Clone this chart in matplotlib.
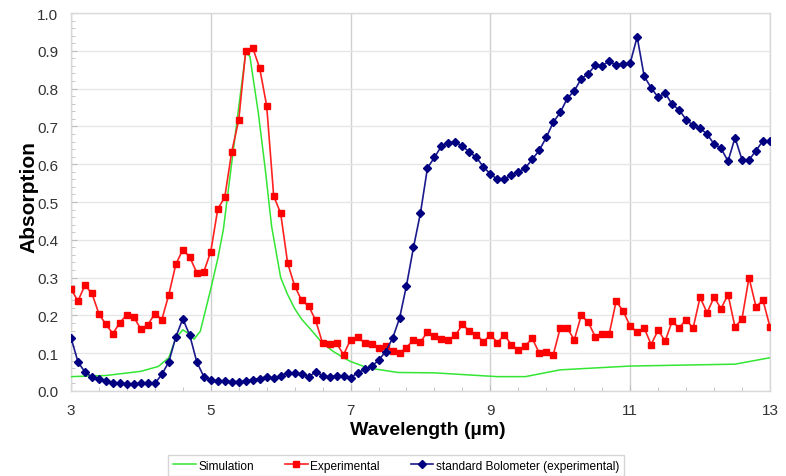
import numpy as np
import matplotlib
matplotlib.use("Agg")
import matplotlib.pyplot as plt
from matplotlib.ticker import MultipleLocator, FixedLocator, FormatStrFormatter

plt.rcParams["font.family"] = ["Liberation Sans", "DejaVu Sans"]

# ---------------------------------------------------------------------------
# Data
# ---------------------------------------------------------------------------
wl_exp = np.round(np.arange(3.0, 13.0001, 0.1), 1)

experimental = [
    0.270, 0.238, 0.280, 0.258, 0.204, 0.176, 0.152, 0.181, 0.202, 0.195,
    0.164, 0.175, 0.205, 0.189, 0.255, 0.335, 0.374, 0.354, 0.313, 0.315,
    0.369, 0.481, 0.513, 0.633, 0.717, 0.900, 0.908, 0.854, 0.754, 0.516,
    0.470, 0.338, 0.278, 0.240, 0.225, 0.187, 0.126, 0.124, 0.126, 0.096,
    0.136, 0.142, 0.128, 0.125, 0.115, 0.119, 0.107, 0.100, 0.115, 0.135,
    0.130, 0.156, 0.145, 0.137, 0.135, 0.147, 0.176, 0.159, 0.149, 0.130,
    0.149, 0.128, 0.149, 0.122, 0.109, 0.120, 0.139, 0.100, 0.103, 0.096,
    0.167, 0.167, 0.135, 0.200, 0.182, 0.144, 0.151, 0.151, 0.238, 0.211,
    0.172, 0.156, 0.167, 0.123, 0.161, 0.132, 0.184, 0.167, 0.189, 0.166,
    0.248, 0.207, 0.248, 0.218, 0.255, 0.169, 0.191, 0.300, 0.223, 0.240,
    0.170,
]

bolometer = [
    0.141, 0.077, 0.050, 0.037, 0.033, 0.026, 0.022, 0.020, 0.019, 0.019,
    0.020, 0.020, 0.020, 0.044, 0.077, 0.143, 0.191, 0.147, 0.077, 0.038,
    0.028, 0.026, 0.026, 0.025, 0.025, 0.026, 0.030, 0.033, 0.038, 0.034,
    0.041, 0.047, 0.047, 0.045, 0.038, 0.050, 0.041, 0.038, 0.039, 0.040,
    0.035, 0.048, 0.057, 0.065, 0.081, 0.104, 0.139, 0.192, 0.279, 0.380,
    0.471, 0.590, 0.618, 0.648, 0.657, 0.658, 0.648, 0.632, 0.618, 0.593,
    0.574, 0.560, 0.560, 0.572, 0.579, 0.590, 0.613, 0.637, 0.671, 0.711,
    0.737, 0.774, 0.794, 0.826, 0.839, 0.862, 0.861, 0.872, 0.862, 0.866,
    0.867, 0.937, 0.833, 0.802, 0.777, 0.789, 0.758, 0.744, 0.718, 0.703,
    0.695, 0.680, 0.653, 0.642, 0.608, 0.670, 0.612, 0.611, 0.636, 0.662,
    0.661,
]

wl_sim = [3.0, 3.5, 4.0, 4.25, 4.4, 4.5, 4.6, 4.68, 4.76, 4.85, 4.94, 5.0,
          5.1, 5.18, 5.3, 5.42, 5.5, 5.56, 5.68, 5.78, 5.87, 6.0, 6.1, 6.2,
          6.3, 6.42, 6.59, 6.75, 6.9, 7.0, 7.25, 7.68, 8.2, 9.1, 9.5, 10.0,
          11.0, 12.5, 13.0]
simulation = [0.038, 0.041, 0.052, 0.065, 0.088, 0.140, 0.162, 0.152, 0.137,
              0.158, 0.225, 0.270, 0.350, 0.427, 0.604, 0.780, 0.895, 0.885,
              0.736, 0.586, 0.436, 0.300, 0.255, 0.218, 0.190, 0.165, 0.128,
              0.105, 0.088, 0.078, 0.061, 0.049, 0.048, 0.038, 0.038, 0.056,
              0.066, 0.071, 0.088]

x_major = [3, 5, 7, 9, 11, 13]

# ---------------------------------------------------------------------------
# Plot
# ---------------------------------------------------------------------------
fig = plt.figure(figsize=(7.86, 4.77), dpi=100)
ax = fig.add_axes([0.0903, 0.1782, 0.8893, 0.7924])

ax.plot(wl_sim, simulation, color="#33e633", lw=1.1, label="Simulation",
        zorder=3)
ax.plot(wl_exp, experimental, color="#ff2020", lw=1.2, marker="s", ms=5,
        mfc="#ff0000", mec="#ff0000", label="Experimental", zorder=4)
ax.plot(wl_exp, bolometer, color="#1a1a8c", lw=1.2, marker="D", ms=4,
        mfc="#000080", mec="#000080",
        label="standard Bolometer (experimental)", zorder=5)

ax.set_xlim(3, 13)
ax.set_ylim(0, 1.0)
ax.xaxis.set_major_locator(FixedLocator(x_major))
ax.xaxis.set_minor_locator(FixedLocator(np.arange(3.0, 13.01, 0.4)))
ax.yaxis.set_major_locator(MultipleLocator(0.1))
ax.yaxis.set_minor_locator(MultipleLocator(0.02))
ax.yaxis.set_major_formatter(FormatStrFormatter("%.1f"))

ax.grid(axis="y", which="major", color="#e6e6e6", lw=1.0, zorder=0)
ax.grid(axis="x", which="major", color="#cfcfcf", lw=1.0, zorder=0)
ax.set_axisbelow(True)

for s in ax.spines.values():
    s.set_color("#d9d9d9")
    s.set_linewidth(1.0)

ax.tick_params(which="both", direction="in", color="#bdbdbd",
               labelcolor="#333333", labelsize=11)
ax.tick_params(which="major", length=4, pad=9)
ax.tick_params(which="minor", length=3)

ax.set_xlabel("Wavelength (µm)", fontsize=14, fontweight="bold")
ax.set_ylabel("Absorption", fontsize=15, fontweight="bold")
ax.xaxis.set_label_coords(0.51, -0.079)
ax.yaxis.set_label_coords(-0.046, 0.516)

leg = fig.legend(loc="center", bbox_to_anchor=(0.504, 0.022), ncol=3,
                 fontsize=8.6, frameon=True, fancybox=False,
                 edgecolor="#cccccc", handlelength=1.9, columnspacing=2.6,
                 handletextpad=0.2, borderpad=0.4)
leg.get_frame().set_linewidth(1.0)

fig.savefig("out.png", dpi=100)
